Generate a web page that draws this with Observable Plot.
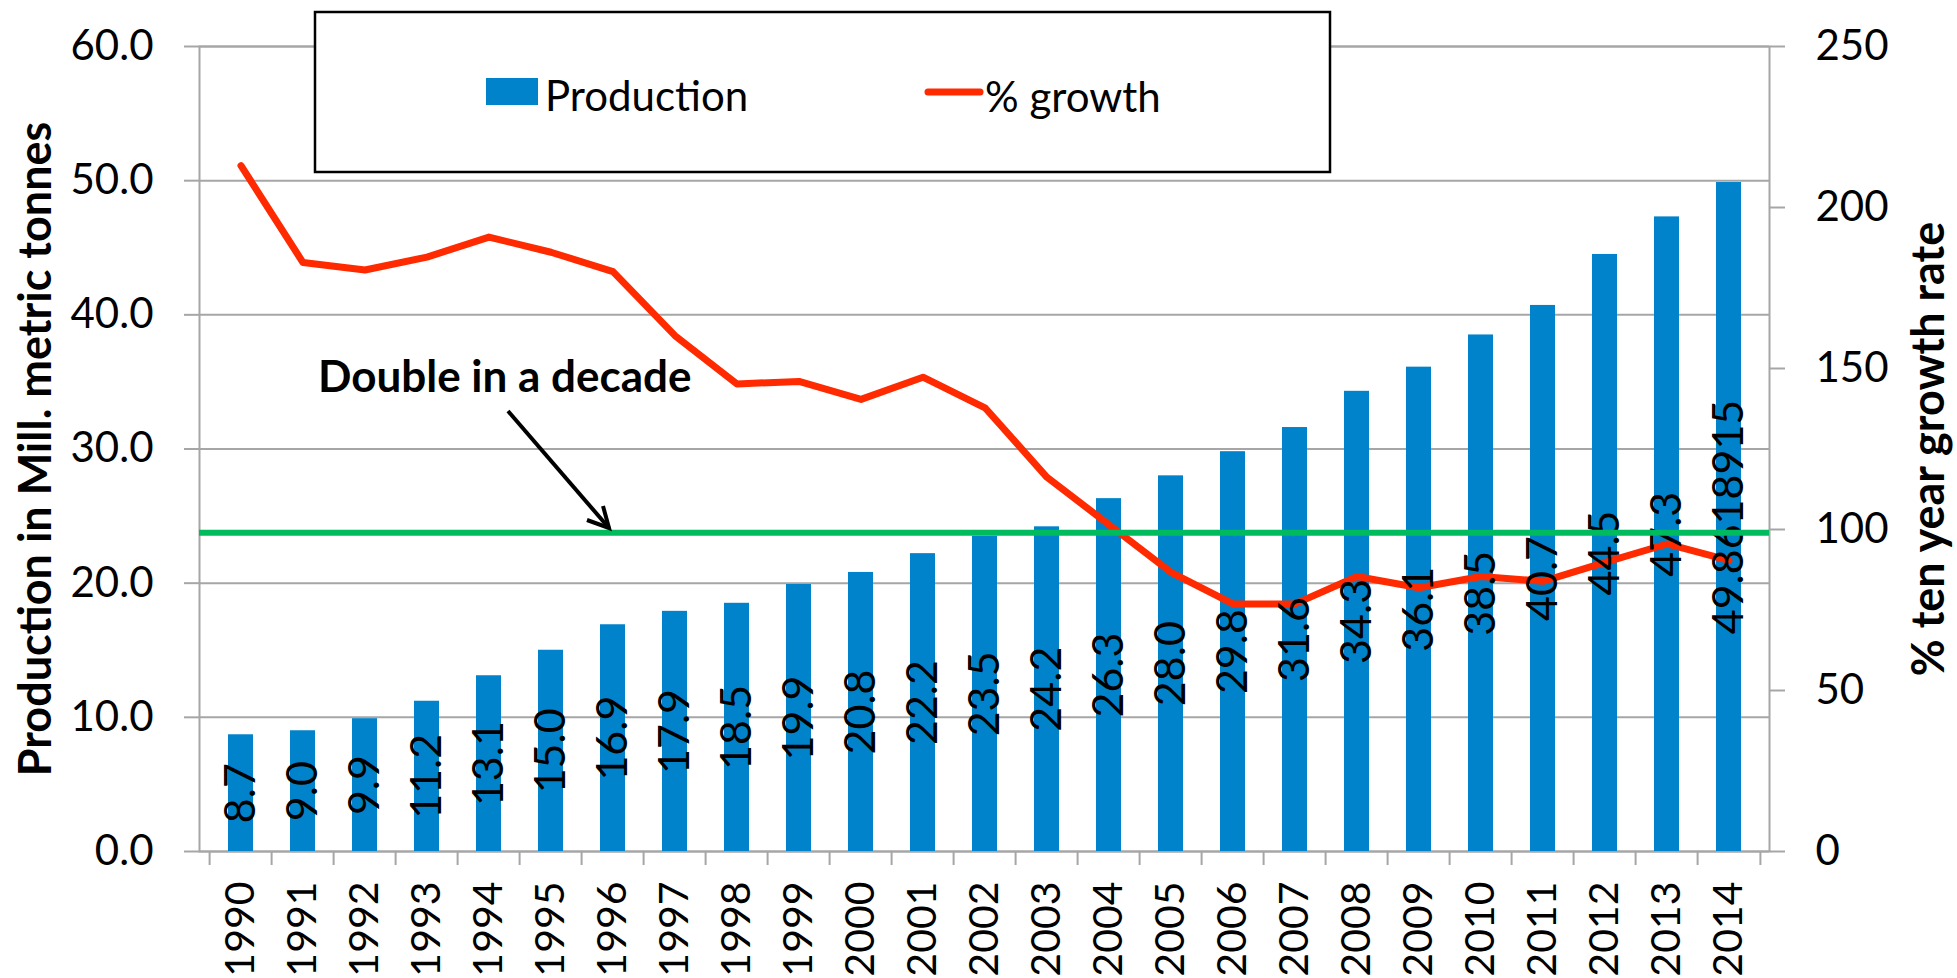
<!DOCTYPE html>
<html>
<head>
<meta charset="utf-8">
<script src="https://cdn.jsdelivr.net/npm/d3@7"></script>
<script src="https://cdn.jsdelivr.net/npm/@observablehq/plot@0.6"></script>
<style>
  html, body { margin: 0; padding: 0; background: #fff; }
  svg { display: block; }
</style>
</head>
<body>
<div id="chart"></div>
<script>
// ---------- data ----------
const years = ["1990","1991","1992","1993","1994","1995","1996","1997","1998","1999","2000","2001","2002","2003","2004","2005","2006","2007","2008","2009","2010","2011","2012","2013","2014"];
const production = [8.7, 9.0, 9.9, 11.2, 13.1, 15.0, 16.9, 17.9, 18.5, 19.9, 20.8, 22.2, 23.5, 24.2, 26.3, 28.0, 29.8, 31.6, 34.3, 36.1, 38.5, 40.7, 44.5, 47.3, 49.8618915];
const productionLabels = ["8.7","9.0","9.9","11.2","13.1","15.0","16.9","17.9","18.5","19.9","20.8","22.2","23.5","24.2","26.3","28.0","29.8","31.6","34.3","36.1","38.5","40.7","44.5","47.3","49.8618915"];
const growth = [213.0, 182.9, 180.6, 184.6, 190.8, 186.1, 180.1, 160.2, 145.2, 146.0, 140.4, 147.3, 137.8, 116.2, 101.5, 86.7, 76.9, 76.9, 85.4, 81.9, 85.4, 83.9, 89.8, 95.5, 90.4];
const leftTicks = [0, 10, 20, 30, 40, 50, 60];
const rightTicks = [0, 50, 100, 150, 200, 250];
const doubleLevel = 99; // % ten-year growth = doubling
const seriesNames = ["Production", "% growth"];
const annotationText = "Double in a decade";
const leftTitle = "Production in Mill. metric tonnes";
const rightTitle = "% ten year growth rate";

// ---------- layout / style ----------
const W = 1957, H = 978;
const mL = 199, mR = 188, mT = 46, mB = 127;
const leftMax = 60, rightMax = 250;
const k = leftMax / rightMax; // right-axis units -> left-axis units
const step = (W - mL - mR) / years.length;
const grey = "#a6a6a6";
const blue = "#0083CB";
const red = "#FF2A00";
const green = "#00BB5E";
const FONT = "Lato, 'Open Sans', sans-serif";
const FS = 42;

const data = years.map((year, i) => ({
  year, production: production[i], label: productionLabels[i], growth: growth[i]
}));

const chart = Plot.plot({
  width: W, height: H,
  marginLeft: mL, marginRight: mR, marginTop: mT, marginBottom: mB,
  style: {fontFamily: FONT, fontSize: FS + "px", color: "black", background: "white"},
  x: {domain: years, paddingInner: 0.6, paddingOuter: 0.3, axis: null},
  y: {domain: [0, leftMax], axis: null},
  marks: [
    Plot.ruleY(leftTicks, {stroke: grey, strokeWidth: 2}),
    Plot.frame({stroke: grey, strokeWidth: 2}),
    // category boundary ticks below the axis
    Plot.ruleX(years, {x: d => d, dx: -step / 2, stroke: grey, strokeWidth: 2, insetTop: H - mT - mB, insetBottom: -14}),
    Plot.ruleX(years.slice(-1), {x: d => d, dx: step / 2, stroke: grey, strokeWidth: 2, insetTop: H - mT - mB, insetBottom: -14}),
    Plot.barY(data, {x: "year", y: "production", fill: blue}),
    Plot.line(data, {x: "year", y: d => d.growth * k, stroke: red, strokeWidth: 7, strokeLinejoin: "round", strokeLinecap: "round"}),
    Plot.text(data, {x: "year", y: d => d.production / 2, text: "label", rotate: -90, textAnchor: "middle", lineAnchor: "middle", fontSize: 43, fill: "black"}),
    Plot.ruleY([doubleLevel * k], {stroke: green, strokeWidth: 6}),
    Plot.axisY(leftTicks, {anchor: "left", tickSize: 15, tickPadding: 31, tickFormat: d3.format(".1f"), stroke: grey, strokeWidth: 2, fontSize: FS, label: null}),
    Plot.axisY(rightTicks.map(v => v * k), {anchor: "right", tickSize: 15, tickPadding: 31, tickFormat: v => String(Math.round(v / k)), stroke: grey, strokeWidth: 2, fontSize: FS, label: null}),
    Plot.axisX({anchor: "bottom", tickSize: 0, tickPadding: 30, tickRotate: -90, fontSize: 41, label: null}),
    Plot.text([leftTitle], {text: d => d, frameAnchor: "left", dx: -163, rotate: -90, textAnchor: "middle", lineAnchor: "middle", fontSize: 45, fontWeight: "bold", fill: "black"}),
    Plot.text([rightTitle], {text: d => d, frameAnchor: "right", dx: 160, rotate: -90, textAnchor: "middle", lineAnchor: "middle", fontSize: 45, fontWeight: "bold", fill: "black"})
  ]
});

document.getElementById("chart").appendChild(chart);

// ---------- legend and annotation overlays ----------
const svg = d3.select(chart);
const lg = svg.append("g").attr("font-family", FONT).attr("font-size", FS).attr("text-anchor", "start");
lg.append("rect").attr("x", 315).attr("y", 12).attr("width", 1015).attr("height", 160)
  .attr("fill", "white").attr("stroke", "black").attr("stroke-width", 2.5);
lg.append("rect").attr("x", 486).attr("y", 78).attr("width", 52).attr("height", 27).attr("fill", blue);
lg.append("text").attr("x", 545).attr("y", 111).attr("fill", "black").text(seriesNames[0]);
lg.append("line").attr("x1", 928).attr("x2", 980).attr("y1", 92).attr("y2", 92)
  .attr("stroke", red).attr("stroke-width", 7).attr("stroke-linecap", "round");
lg.append("text").attr("x", 985).attr("y", 112).attr("fill", "black").text(seriesNames[1]);

const an = svg.append("g").attr("text-anchor", "start");
an.append("text").attr("x", 318).attr("y", 392).attr("font-family", FONT).attr("font-size", 44)
  .attr("font-weight", "bold").attr("fill", "black").text(annotationText);
an.append("line").attr("x1", 508).attr("y1", 411).attr("x2", 609).attr("y2", 528)
  .attr("stroke", "black").attr("stroke-width", 4);
an.append("polyline").attr("points", "587,520 609,528 603,506")
  .attr("fill", "none").attr("stroke", "black").attr("stroke-width", 4);
</script>
</body>
</html>
